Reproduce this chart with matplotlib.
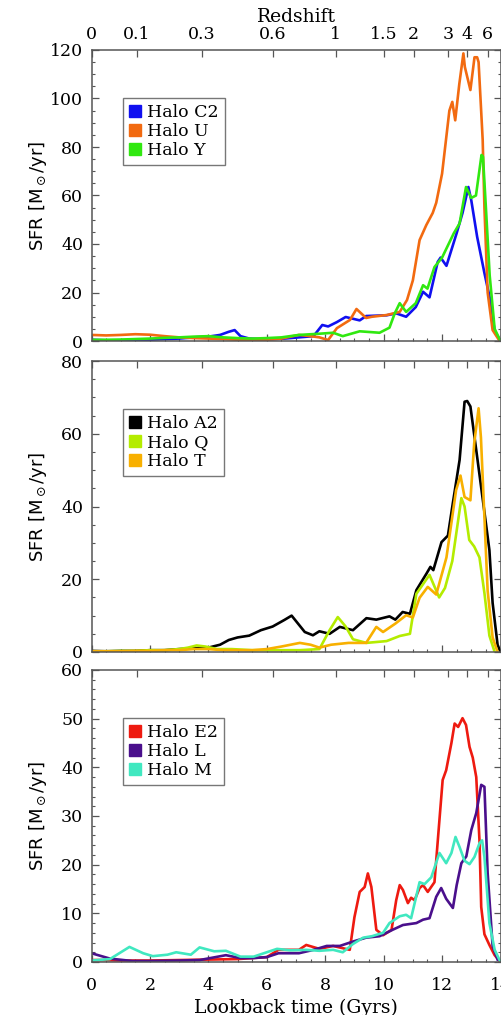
import matplotlib
matplotlib.use("Agg")
import matplotlib.pyplot as plt
from matplotlib.lines import Line2D
from matplotlib.ticker import MultipleLocator

# ---------------- data ----------------
redshift_labels = ["0", "0.1", "0.3", "0.6", "1", "1.5", "2", "3", "4", "6"]
redshift_lookback = [0.0, 1.56, 3.78, 6.21, 8.36, 10.0, 11.03, 12.22, 12.87, 13.56]

# Panel 1
c2_x = [0, 0.5, 1, 1.5, 2, 2.5, 3, 3.5, 4, 4.4, 4.7, 4.9, 5.1, 5.4, 5.8, 6.2, 6.6, 7.1, 7.6, 7.9, 8.1, 8.4, 8.7, 9.18, 9.4, 10.1, 10.43, 10.77, 11.1, 11.35, 11.57, 11.85, 11.95, 12.15, 12.5, 12.7, 12.9, 13.0, 13.2, 13.45, 13.63, 13.8, 14.0]
c2_y = [0.5, 0.3, 0.3, 0.4, 0.5, 0.8, 1.0, 1.5, 1.8, 2.5, 3.8, 4.5, 2.0, 1.0, 0.8, 0.8, 1.0, 1.5, 2.0, 6.6, 6.0, 7.8, 9.9, 8.5, 10.3, 10.6, 11.4, 10.0, 14.0, 20.3, 18.0, 32.6, 34.4, 31.0, 44.5, 52.8, 63.5, 58.0, 43.0, 28.0, 18.0, 4.0, 0.0]

u_x = [0, 0.5, 1, 1.5, 2, 2.5, 3, 3.5, 4, 4.5, 5, 5.5, 6, 6.5, 7.1, 7.5, 7.8, 8.1, 8.4, 8.85, 9.07, 9.4, 9.6, 10.1, 10.55, 10.8, 11.0, 11.23, 11.46, 11.68, 11.8, 12.0, 12.25, 12.35, 12.45, 12.59, 12.73, 12.78, 12.97, 13.11, 13.2, 13.25, 13.39, 13.45, 13.56, 13.73, 13.97]
u_y = [2.5, 2.3, 2.5, 2.8, 2.6, 2.0, 1.5, 1.2, 1.0, 0.8, 0.5, 0.4, 0.5, 1.0, 2.5, 2.0, 1.5, 0.4, 5.3, 8.7, 13.2, 9.5, 10.0, 10.7, 12.0, 16.9, 25.0, 41.6, 47.8, 52.8, 57.0, 69.0, 95.0, 98.6, 91.0, 106.0, 118.6, 113.0, 103.5, 117.0, 117.0, 115.0, 83.0, 55.0, 20.0, 4.5, 0.0]

y_x = [0, 0.5, 1, 1.5, 2, 2.5, 3, 3.5, 4, 4.5, 5, 5.5, 6, 6.5, 7.1, 7.8, 8.27, 8.6, 9.18, 9.86, 10.2, 10.38, 10.55, 10.77, 11.1, 11.35, 11.5, 11.74, 12.0, 12.4, 12.6, 12.82, 13.0, 13.16, 13.35, 13.4, 13.5, 13.63, 13.8, 14.0]
y_y = [0.5, 0.5, 0.6, 0.8, 1.0, 1.3, 1.5, 1.8, 2.0, 1.5, 1.2, 1.0, 1.2, 1.5, 2.5, 3.0, 3.4, 2.0, 4.0, 3.4, 5.5, 11.4, 15.6, 12.0, 15.6, 23.0, 21.6, 30.5, 34.4, 44.4, 48.5, 63.5, 59.0, 60.0, 76.7, 76.0, 55.0, 27.0, 5.0, 0.0]

# Panel 2
a2_x = [0, 0.5, 1, 1.5, 2, 2.5, 3, 3.5, 4, 4.4, 4.7, 5.0, 5.4, 5.8, 6.2, 6.6, 6.85, 7.0, 7.3, 7.58, 7.8, 8.15, 8.5, 8.95, 9.41, 9.75, 10.2, 10.4, 10.65, 10.9, 11.12, 11.47, 11.6, 11.7, 11.98, 12.2, 12.37, 12.6, 12.77, 12.86, 12.97, 13.17, 13.5, 13.62, 13.73, 13.9, 14.0]
a2_y = [0.3, 0.2, 0.3, 0.3, 0.5, 0.5, 0.8, 1.0, 1.2, 2.0, 3.3, 4.0, 4.5, 6.0, 7.0, 8.8, 10.0, 8.5, 5.5, 4.6, 5.7, 5.0, 6.9, 6.0, 9.3, 8.9, 9.8, 8.9, 11.0, 10.5, 17.0, 21.6, 23.4, 22.5, 30.2, 32.0, 41.0, 52.8, 68.8, 69.0, 67.5, 55.5, 35.4, 28.0, 13.5, 2.0, 0.0]

q_x = [0, 0.5, 1, 1.5, 2, 2.5, 3, 3.3, 3.6, 3.9, 4.3, 4.8, 5.5, 6, 6.5, 7.13, 7.8, 8.15, 8.43, 8.7, 8.95, 9.41, 10.1, 10.55, 10.9, 11.12, 11.57, 11.9, 12.1, 12.35, 12.66, 12.77, 12.93, 13.1, 13.28, 13.45, 13.62, 13.8]
q_y = [0.2, 0.2, 0.3, 0.3, 0.5, 0.5, 0.8, 1.2, 1.8, 1.5, 0.8, 0.8, 0.5, 0.5, 0.5, 0.5, 0.8, 6.0, 9.6, 7.0, 3.5, 2.5, 3.0, 4.4, 5.0, 16.0, 21.2, 15.0, 17.6, 25.0, 42.3, 40.0, 30.8, 29.0, 26.0, 16.2, 4.5, 0.0]

t_x = [0, 0.5, 1, 1.5, 2, 2.5, 3, 3.5, 4, 4.5, 5, 5.5, 6, 6.5, 7.13, 7.5, 7.8, 8.2, 8.8, 9.4, 9.75, 9.98, 10.4, 10.77, 11.0, 11.23, 11.51, 11.8, 12.15, 12.48, 12.63, 12.77, 12.97, 13.1, 13.25, 13.33, 13.45, 13.56, 13.73, 13.9]
t_y = [0.2, 0.2, 0.2, 0.3, 0.3, 0.5, 0.5, 0.8, 0.8, 0.5, 0.5, 0.5, 0.8, 1.5, 2.5, 2.0, 1.2, 2.0, 2.5, 2.5, 6.9, 5.5, 7.8, 10.1, 9.5, 14.9, 17.9, 15.8, 26.0, 44.5, 48.5, 42.6, 41.7, 57.4, 67.0, 59.0, 37.0, 16.8, 4.0, 0.0]

# Panel 3
e2_x = [0, 0.5, 1, 2, 3, 4, 5, 5.5, 6.0, 6.4, 7.1, 7.35, 7.8, 8.27, 8.84, 9.0, 9.18, 9.35, 9.46, 9.58, 9.75, 9.98, 10.27, 10.43, 10.55, 10.66, 10.83, 10.94, 11.06, 11.23, 11.35, 11.51, 11.74, 11.91, 12.02, 12.14, 12.32, 12.43, 12.55, 12.7, 12.82, 12.94, 13.05, 13.17, 13.28, 13.34, 13.45, 13.62, 13.8, 14.0]
e2_y = [0.4, 0.4, 0.3, 0.3, 0.4, 0.5, 0.6, 0.8, 1.0, 2.5, 2.5, 3.5, 2.7, 3.3, 2.5, 9.2, 14.4, 15.4, 18.2, 15.4, 6.6, 5.5, 6.6, 12.7, 15.8, 14.8, 12.1, 13.2, 12.7, 15.2, 15.8, 14.4, 16.4, 29.2, 37.4, 39.4, 45.0, 49.0, 48.3, 50.1, 48.7, 44.2, 42.0, 38.0, 25.0, 11.3, 5.7, 3.5, 1.4, 0.0]

l_x = [0, 0.63, 1.4, 2, 3, 3.7, 4.6, 5.1, 5.5, 6.0, 6.4, 7.1, 7.6, 8.05, 8.5, 8.95, 9.4, 9.86, 10.3, 10.66, 11.12, 11.35, 11.57, 11.8, 11.97, 12.14, 12.37, 12.5, 12.66, 12.83, 13.0, 13.17, 13.34, 13.45, 13.56, 13.73, 13.9]
l_y = [1.8, 0.7, 0.2, 0.2, 0.3, 0.4, 1.4, 0.8, 0.8, 1.0, 1.8, 1.8, 2.5, 3.3, 3.3, 4.2, 5.0, 5.3, 6.6, 7.6, 8.0, 8.7, 9.0, 13.4, 15.2, 13.0, 11.1, 15.8, 20.3, 21.7, 27.1, 30.6, 36.4, 36.0, 18.3, 3.3, 0.5]

m_x = [0, 0.63, 1.3, 1.77, 2.1, 2.6, 2.9, 3.4, 3.7, 4.2, 4.6, 5.1, 5.55, 6.0, 6.35, 6.8, 7.35, 7.8, 8.27, 8.6, 8.95, 9.3, 9.6, 9.98, 10.2, 10.55, 10.77, 10.94, 11.23, 11.4, 11.63, 11.91, 12.14, 12.32, 12.46, 12.6, 12.77, 12.94, 13.11, 13.28, 13.37, 13.45, 13.62, 13.8, 14.0]
m_y = [0.3, 0.6, 3.1, 1.8, 1.2, 1.5, 2.0, 1.5, 3.0, 2.2, 2.3, 1.1, 1.1, 2.0, 2.7, 2.4, 2.5, 2.3, 2.5, 2.0, 3.7, 5.0, 5.3, 6.0, 8.0, 9.4, 9.7, 9.0, 16.4, 16.0, 17.4, 22.4, 20.3, 22.4, 25.7, 23.6, 20.8, 20.1, 21.6, 24.4, 25.0, 21.6, 8.0, 2.5, 0.0]

panels = [
    {"series": [("Halo C2", c2_x, c2_y, "#1010f0"),
                ("Halo U", u_x, u_y, "#f26a10"),
                ("Halo Y", y_x, y_y, "#30e810")],
     "ylim": (0, 120), "major": 20, "minor": 5},
    {"series": [("Halo A2", a2_x, a2_y, "#000000"),
                ("Halo Q", q_x, q_y, "#b4ec00"),
                ("Halo T", t_x, t_y, "#f8b000")],
     "ylim": (0, 80), "major": 20, "minor": 5},
    {"series": [("Halo E2", e2_x, e2_y, "#ee1a10"),
                ("Halo L", l_x, l_y, "#4a0f8c"),
                ("Halo M", m_x, m_y, "#40e8c0")],
     "ylim": (0, 60), "major": 10, "minor": 2},
]

# ---------------- layout ----------------
W, H = 501, 1015
fig = plt.figure(figsize=(W / 100, H / 100), dpi=100)
serif = "DejaVu Serif"
spine_col = "#555555"

left_px, right_px = 91.5, 500.5
boxes = [(50, 341), (361, 652), (670, 962)]

for i, (p, (top, bot)) in enumerate(zip(panels, boxes)):
    ax = fig.add_axes([left_px / W, 1 - bot / H, (right_px - left_px) / W, (bot - top) / H])
    for name, xs, ys, col in p["series"]:
        ax.plot(xs, ys, color=col, lw=1.9, solid_joinstyle="round")
    ax.set_xlim(0, 14)
    ax.set_ylim(*p["ylim"])
    ax.xaxis.set_major_locator(MultipleLocator(2))
    ax.xaxis.set_minor_locator(MultipleLocator(0.5))
    ax.yaxis.set_major_locator(MultipleLocator(p["major"]))
    ax.yaxis.set_minor_locator(MultipleLocator(p["minor"]))
    ax.tick_params(which="both", direction="in", top=False, right=True, colors=spine_col,
                   labelcolor="black", labelsize=12.5)
    ax.tick_params(which="major", length=5, width=0.9)
    ax.tick_params(which="minor", length=2.5, width=0.8)
    ax.tick_params(axis="y", pad=6)
    ax.tick_params(axis="x", pad=11)
    for lab in ax.get_xticklabels() + ax.get_yticklabels():
        lab.set_family(serif)
    for s in ax.spines.values():
        s.set_color(spine_col)
        s.set_linewidth(1.1)
    if i < 2:
        ax.tick_params(axis="x", labelbottom=False)
    else:
        ax.set_xlabel("Lookback time (Gyrs)", family=serif, fontsize=13.5, labelpad=3)

    ax.set_ylabel("SFR [M$_\\odot$/yr]", fontsize=13, family="DejaVu Sans")
    ax.yaxis.set_label_coords(-0.105, 0.5)

    # top redshift axis
    tw = ax.twiny()
    tw.set_xlim(0, 14)
    tw.set_xticks(redshift_lookback)
    tw.tick_params(direction="in", length=5, width=0.9, colors=spine_col, labelcolor="black",
                   labelsize=12.5, pad=5)
    tw.xaxis.set_minor_locator(matplotlib.ticker.NullLocator())
    if i == 0:
        tw.set_xticklabels(redshift_labels, family=serif)
        tw.set_xlabel("Redshift", family=serif, fontsize=13.5, labelpad=3)
    else:
        tw.set_xticklabels([])
    for s in tw.spines.values():
        s.set_visible(False)

    handles = [Line2D([], [], marker="s", linestyle="none", color=col, markersize=9)
               for _, _, _, col in p["series"]]
    labels = [name for name, _, _, _ in p["series"]]
    leg = ax.legend(handles, labels, loc="upper left", bbox_to_anchor=(0.076, 0.835),
                    borderaxespad=0, fancybox=False, edgecolor="#777777", framealpha=1,
                    handlelength=0.7, handletextpad=0.35, borderpad=0.35, labelspacing=0.12,
                    prop={"family": serif, "size": 12.5})
    leg.get_frame().set_linewidth(1.0)

fig.savefig("out.png", dpi=100)
